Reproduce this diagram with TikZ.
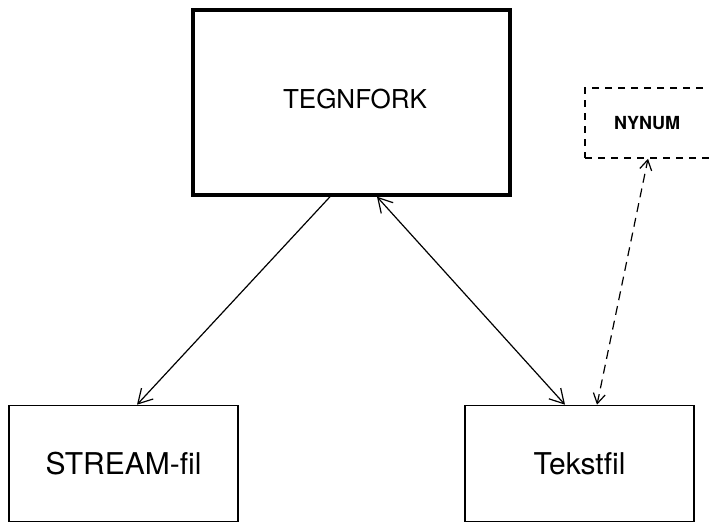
\documentclass[tikz,border=0pt]{standalone}
\usepackage{fontspec}
\setmainfont{TeX Gyre Heros}
\usepackage{tikz}
\usetikzlibrary{arrows.meta,positioning}
\tikzset{
	filbox/.style={draw, line width=1.6pt, inner sep=0pt, minimum width=229pt, minimum height=116pt, font=\fontsize{30}{36}\selectfont},
	mainbox/.style={filbox, line width=3.5pt, minimum width=317pt, minimum height=185pt, font=\fontsize{26}{31}\selectfont},
	extbox/.style={draw, line width=1.5pt, dash pattern=on 7pt off 6pt, inner sep=0pt, minimum width=180pt, minimum height=70pt, font=\bfseries\fontsize{18}{21}\selectfont},
	link/.style={line width=1.2pt, -{Straight Barb[length=14pt,width=16pt]}},
	twoway/.style={line width=1.2pt, {Straight Barb[length=14pt,width=16pt]}-{Straight Barb[length=14pt,width=16pt]}},
	extlink/.style={line width=1.2pt, dash pattern=on 9pt off 6pt, {Straight Barb[length=10pt,width=12pt]}-{Straight Barb[length=10pt,width=12pt]}}
}

\begin{document}
\begin{tikzpicture}[x=1pt,y=-1pt]
	\useasboundingbox (0,0) rectangle (709,522);
	\clip (0,0) rectangle (709,522);

	% Main modules
	\node[mainbox] (tegnfork) at (351.5,102.5) {\raisebox{8pt}{\hspace{7pt}TEGNFORK}};
	\node[filbox] (stream-fil) at (123.5,463.5) {STREAM-fil};
	\node[filbox] (tekstfil) at (579.5,463.5) {Tekstfil};

	% External module, dashed (runs off the right side)
	\node[extbox] (nynum) at (675,123) {NYNUM\kern56pt};

	\draw[link] ([xshift=-21.5pt]tegnfork.south) -- ([xshift=13.5pt]stream-fil.north);
	\draw[twoway] ([xshift=25.5pt]tegnfork.south) -- ([xshift=-14.5pt]tekstfil.north);
	\draw[extlink] ([xshift=17.5pt]tekstfil.north) -- ([xshift=-27pt]nynum.south);
\end{tikzpicture}
\end{document}
